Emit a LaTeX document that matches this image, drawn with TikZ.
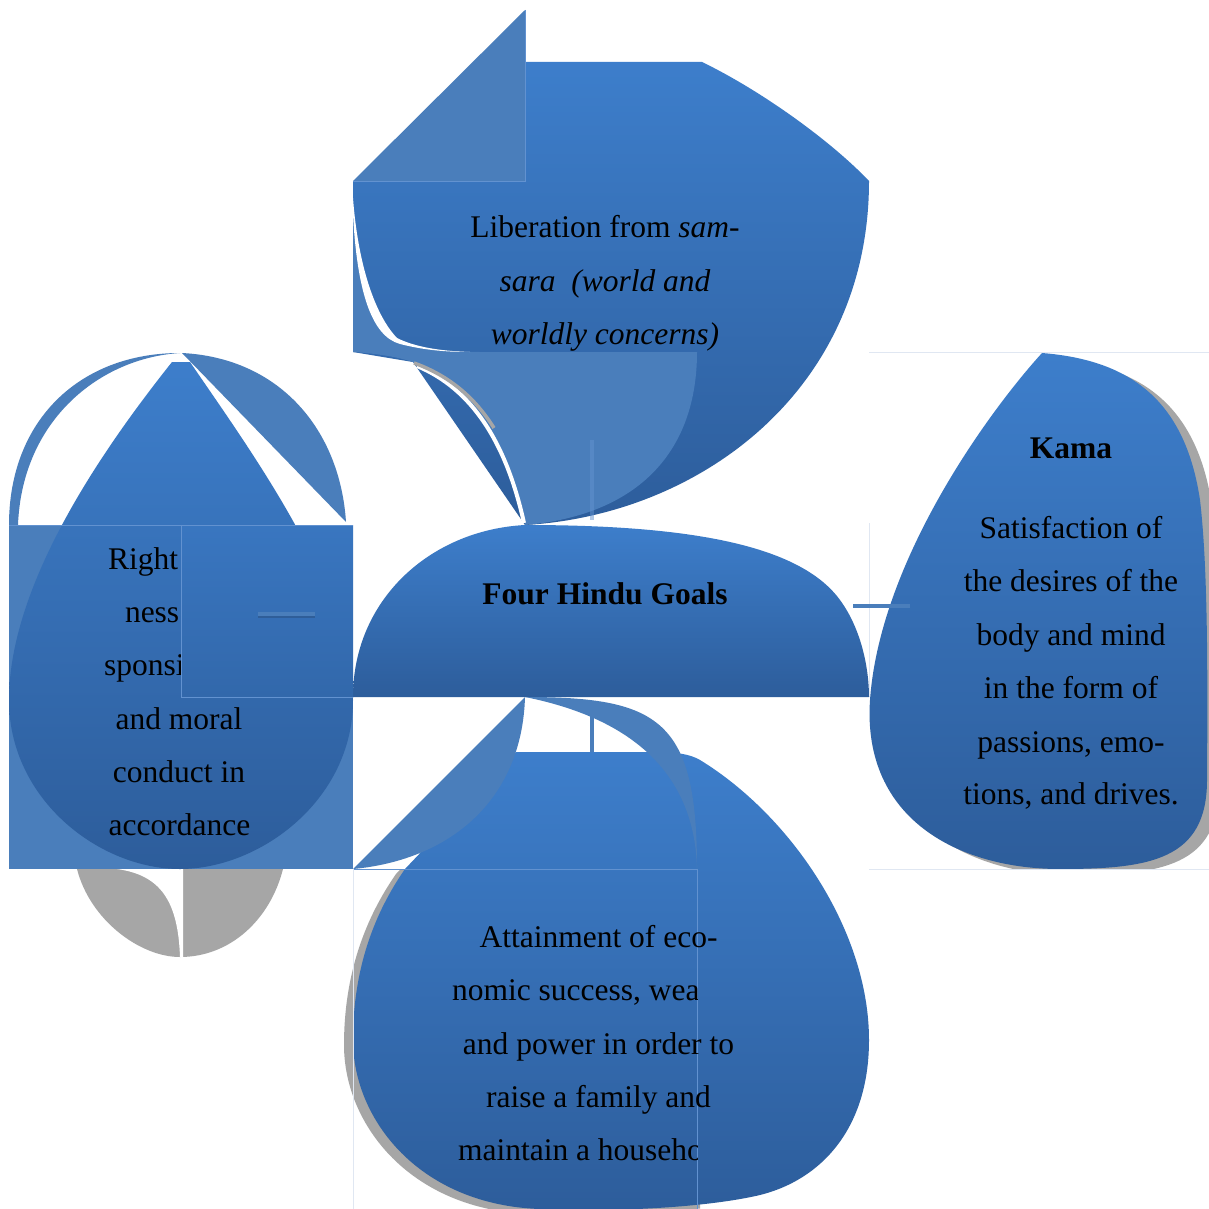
\documentclass[tikz,border=0pt]{standalone}
\usepackage{fontspec}
\setmainfont{Liberation Serif}
\definecolor{gtop}{RGB}{61,126,203}
\definecolor{gbot}{RGB}{45,93,155}
\definecolor{otop}{RGB}{57,118,192}
\definecolor{obot}{RGB}{50,104,171}
\definecolor{flat}{RGB}{74,126,187}
\definecolor{shd}{RGB}{166,166,166}
\definecolor{faint}{RGB}{224,231,242}
\definecolor{seamc}{RGB}{98,146,208}
\definecolor{stubshadow}{RGB}{44,84,135}
\tikzset{
 gradfill/.style={top color=gtop, bottom color=gbot},
 ovfill/.style={top color=otop, bottom color=obot},
 flatfill/.style={fill=flat},
 shadowfill/.style={fill=shd},
 faintline/.style={draw=faint, line width=0.9pt},
 seam/.style={draw=seamc, line width=0.7pt},
 stub/.style={draw=flat, line width=4.5pt},
 lbl/.style={anchor=base, inner sep=0pt, outer sep=0pt, text=black, font=\fontsize{31.5}{38}\selectfont},
 lbll/.style={lbl, anchor=base west},
}
\begin{document}
\begin{tikzpicture}[x=1pt,y=-1pt]
\useasboundingbox (0,0) rectangle (1209,1209);
\fill[white] (0,0) rectangle (1209,1209);

% ---------------- Right shape (Kama) ----------------
\begin{scope}
\clip (869,352) rectangle (1209,869);
\fill[shadowfill, shift={(12,6)}] (1042,353) .. controls (990,410) and (880,560) .. (870,700)
  .. controls (862,820) and (960,869) .. (1060,869) .. controls (1150,869) and (1207,860) .. (1207,780)
  .. controls (1208,650) and (1207,560) .. (1200,500) .. controls (1185,400) and (1130,360) .. (1042,353) -- cycle;
\end{scope}
\shade[gradfill] (1042,353) .. controls (990,410) and (880,560) .. (870,700)
  .. controls (862,820) and (960,869) .. (1060,869) .. controls (1150,869) and (1207,860) .. (1207,780)
  .. controls (1208,650) and (1207,560) .. (1200,500) .. controls (1185,400) and (1130,360) .. (1042,353) -- cycle;
\draw[faintline] (869,352) -- (1209,352);
\draw[faintline] (869,869) -- (1209,869);
\draw[faintline] (869,523) -- (869,697);
\node[lbl, font=\fontsize{31.5}{38}\selectfont\bfseries] (kama) at (1071,458) {Kama};
\node[lbl] (k1) at (1071,538) {Satisfaction of};
\node[lbl] (k2) at (1071,591) {the desires of the};
\node[lbl] (k3) at (1071,645) {body and mind};
\node[lbl] (k4) at (1071,698) {in the form of};
\node[lbl] (k5) at (1071,752) {passions, emo-};
\node[lbl] (k6) at (1071,804) {tions, and drives.};

% ---------------- Top shape (Moksha) ----------------
\shade[gradfill] (353,181) -- (525,181) -- (525,62) -- (702,62)
  .. controls (760,90) and (830,140) .. (869,181)
  .. controls (869,390) and (700,515) .. (525,525) -- (413,362) -- (353,352) -- cycle;
\fill[flatfill] (353,213) .. controls (358,290) and (372,335) .. (400,343)
  .. controls (420,349) and (450,352) .. (480,352) -- (697,352)
  .. controls (697,450) and (640,515) .. (525,525)
  .. controls (505,440) and (470,385) .. (413,362)
  .. controls (395,356) and (370,353) .. (353,352) -- cycle;
\fill[white] (353,198) .. controls (358,265) and (375,315) .. (397,338)
  .. controls (415,347) and (440,351) .. (470,352)
  .. controls (440,352) and (420,349) .. (400,344)
  .. controls (371,336) and (357,290) .. (353,214) -- cycle;
\draw[white, line width=4pt] (417,366) .. controls (472,389) and (506,442) .. (524,523);
\draw[shd, line width=3.5pt] (414,363) .. controls (450,376) and (475,398) .. (494,428);
\fill[flatfill] (353,181) -- (525,10) -- (525,181) -- cycle;
\draw[seam] (353,181) -- (525,181) -- (525,10);
\draw[draw=seamc, line width=4pt, opacity=0.5] (592,440) -- (592,520);
\node[lbl] (m1) at (605,237) {Liberation from \textit{sam-}};
\node[lbl] (m2) at (605,291) {\textit{sara\ \ (world and}};
\node[lbl] (m3) at (605,344) {\textit{worldly concerns)}};

% ---------------- Centre shape ----------------
\shade[gradfill] (353,697) .. controls (353,600) and (430,530) .. (525,525)
  .. controls (690,525) and (800,545) .. (840,600)
  .. controls (862,630) and (869,670) .. (869,697) -- cycle;
\node[lbl, font=\fontsize{31.5}{38}\selectfont\bfseries] (goals) at (605,604) {Four Hindu Goals};

% ---------------- Left shape (Dharma) ----------------
\fill[shadowfill] (77,869) .. controls (90,920) and (140,957) .. (180,957)
  .. controls (230,957) and (270,920) .. (283,869) -- cycle;
\fill[white] (117,869) .. controls (160,875) and (178,900) .. (180,957) -- (183,957) -- (183,869) -- cycle;
\fill[flatfill] (9,525) rectangle (353,869);
\fill[flatfill] (9,525) .. controls (9,420) and (80,353) .. (180,353)
  .. controls (100,358) and (22,420) .. (18,525) -- cycle;
\fill[flatfill] (182,353) .. controls (280,358) and (340,430) .. (346,522) -- cycle;
\shade[gradfill] (172,362) -- (190,362) .. controls (250,450) and (353,590) .. (353,700)
  .. controls (353,800) and (260,869) .. (180,869)
  .. controls (100,869) and (9,800) .. (9,700)
  .. controls (9,580) and (110,440) .. (172,362) -- cycle;
\node[lbll] (d1) at (108,569) {Right};
\node[lbll] (d2) at (125,622) {ness};
\node[lbll] (d3) at (104,675) {sponsi};
\node[lbl] (d4) at (179,729) {and moral};
\node[lbl] (d5) at (179,782) {conduct in};
\node[lbl] (d6) at (179.5,835) {accordance};
\shade[ovfill] (181,525) rectangle (353,697);
\draw[seam] (9,525) -- (353,525);
\draw[seam] (181,525) -- (181,697) -- (353,697);
\coordinate (ls1) at (258,614);
\coordinate (ls2) at (315,614);
\draw[draw=stubshadow, line width=3pt, opacity=0.6] ([yshift=-2.5pt]ls1) -- ([yshift=-2.5pt]ls2);
\draw[stub] (ls1) -- (ls2);

% ---------------- Bottom shape (Artha) ----------------
\begin{scope}
\clip (300,869) rectangle (700,1209);
\fill[shadowfill, shift={(-9,5)}] (516,752) -- (657,752) .. controls (675,752) and (690,754) .. (700,760)
  .. controls (790,815) and (869,930) .. (869,1040)
  .. controls (869,1130) and (820,1180) .. (760,1195)
  .. controls (700,1209) and (600,1212) .. (540,1209)
  .. controls (420,1205) and (353,1120) .. (353,1040)
  .. controls (353,960) and (380,905) .. (405,869) -- cycle;
\end{scope}
\shade[gradfill] (516,752) -- (657,752) .. controls (675,752) and (690,754) .. (700,760)
  .. controls (790,815) and (869,930) .. (869,1040)
  .. controls (869,1130) and (820,1180) .. (760,1195)
  .. controls (700,1209) and (600,1212) .. (540,1209)
  .. controls (420,1205) and (353,1120) .. (353,1040)
  .. controls (353,960) and (380,905) .. (405,869) -- cycle;
\fill[flatfill] (353,869) -- (525,697) .. controls (522,800) and (450,860) .. (353,869) -- cycle;
\fill[flatfill] (525,697) .. controls (660,697) and (697,720) .. (697,869)
  .. controls (695,780) and (640,720) .. (525,697) -- cycle;
\draw[seam] (353,869) -- (697,869) -- (697,1209);
\draw[faintline] (353,869) -- (353,1209);
\node[lbl] (a1) at (598.5,947) {Attainment of eco-};
\begin{scope}
\clip (340,960) rectangle (697,1180);
\node[lbll] (a2) at (452,1000) {nomic success, wea};
\node[lbll] (a5) at (458,1160) {maintain a househo};
\end{scope}
\node[lbl] (a3) at (598.5,1054) {and power in order to};
\node[lbl] (a4) at (598.5,1107) {raise a family and};
\coordinate (bs1) at (592,712);
\coordinate (bs2) at (592,752);
\draw[stub] (bs1) -- (bs2);

% right stub
\coordinate (rs1) at (853,606);
\coordinate (rs2) at (910,606);
\draw[stub] (rs1) -- (rs2);
\end{tikzpicture}
\end{document}
